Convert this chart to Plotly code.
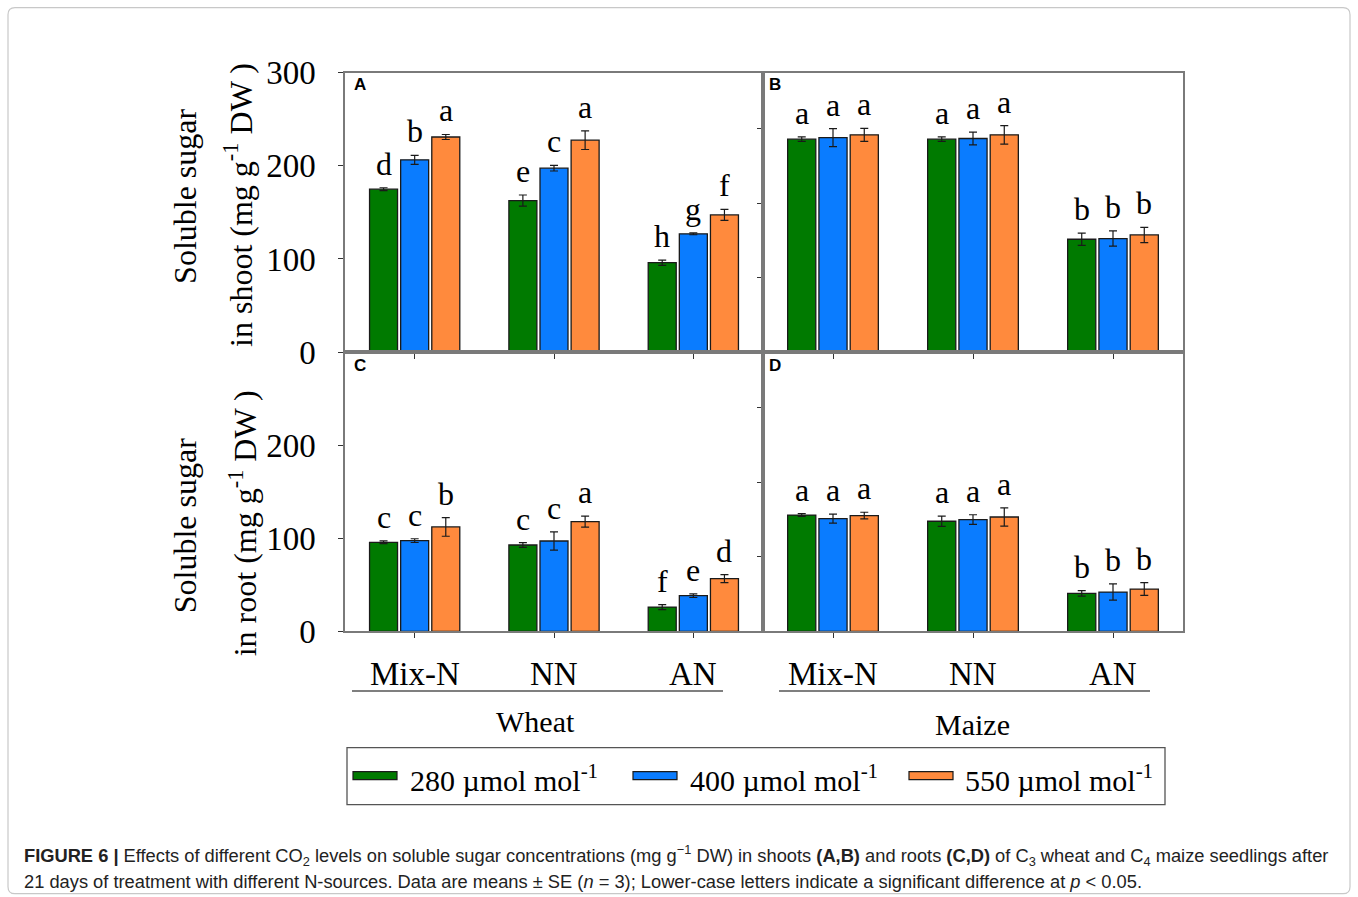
import plotly.graph_objects as go

W, H = 1358, 897

# ---- data -------------------------------------------------------------
n_sources = ["Mix-N", "NN", "AN"]
co2_levels = ["280", "400", "550"]
bar_colors = ["#007a00", "#0a7cff", "#ff8a3d"]

# rows follow co2_levels, columns follow n_sources
wheat_shoot_mean = [[175.0, 162.7, 96.0], [206.5, 197.5, 127.0], [231.0, 227.6, 147.3]]
wheat_shoot_se = [[1.5, 6.0, 2.8], [4.8, 3.0, 1.0], [2.7, 10.0, 5.9]]
wheat_shoot_letters = [["d", "e", "h"], ["b", "c", "g"], ["a", "a", "f"]]

maize_shoot_mean = [[228.7, 228.7, 121.2], [230.4, 229.4, 121.9], [233.3, 233.3, 125.8]]
maize_shoot_se = [[2.4, 2.5, 6.6], [9.7, 6.8, 8.2], [7.0, 10.0, 8.2]]
maize_shoot_letters = [["a", "a", "b"], ["a", "a", "b"], ["a", "a", "b"]]

wheat_root_mean = [[95.7, 92.8, 26.1], [97.5, 97.1, 38.4], [112.2, 118.0, 56.7]]
wheat_root_se = [[1.5, 2.5, 2.7], [2.0, 9.7, 2.0], [10.0, 5.9, 4.3]]
wheat_root_letters = [["c", "c", "f"], ["c", "c", "e"], ["b", "a", "d"]]

maize_root_mean = [[125.0, 118.3, 40.9], [121.2, 120.1, 42.3], [124.4, 122.9, 45.5]]
maize_root_se = [[1.5, 5.5, 3.0], [4.8, 5.2, 8.8], [3.6, 9.8, 6.8]]
maize_root_letters = [["a", "a", "b"], ["a", "a", "b"], ["a", "a", "b"]]

y_ticks_shoot = [0, 100, 200, 300]
y_ticks_root = [0, 100, 200]
y_minor_right = [80, 160, 240]

SERIF = "Liberation Serif, Times New Roman, serif"
SANS = "Liberation Sans, Arial, sans-serif"

# vertical placement of the drawing area inside the page
TOP, SPAN = 17.3, 860.0


def px(x):
    return x / W


def py(y):
    return 1 - (y - TOP) / SPAN


BARGAP = 0.33
BARGROUPGAP = 0.1
slot = (1 - BARGAP) / len(co2_levels)

panels = [
    # (mean, se, letters, axis suffix)
    (wheat_shoot_mean, wheat_shoot_se, wheat_shoot_letters, ""),
    (maize_shoot_mean, maize_shoot_se, maize_shoot_letters, "2"),
    (wheat_root_mean, wheat_root_se, wheat_root_letters, "3"),
    (maize_root_mean, maize_root_se, maize_root_letters, "4"),
]

fig = go.Figure()
annotations = []

for mean, se, letters, sfx in panels:
    for i, lvl in enumerate(co2_levels):
        fig.add_trace(go.Bar(
            x=n_sources, y=mean[i],
            name=lvl + " µmol mol-1",
            marker=dict(color=bar_colors[i], line=dict(color="#1a1a1a", width=1.3)),
            error_y=dict(type="data", array=se[i], visible=True,
                         color="#1a1a1a", thickness=1.2, width=4),
            xaxis="x" + sfx, yaxis="y" + sfx,
            showlegend=False, offsetgroup=str(i),
        ))
        for j in range(len(n_sources)):
            annotations.append(dict(
                x=j + (i - 1) * slot, y=mean[i][j] + se[i][j],
                xref="x" + sfx, yref="y" + sfx,
                text=letters[i][j], showarrow=False,
                xanchor="center", yanchor="bottom", yshift=4,
                font=dict(family=SERIF, size=32, color="black"),
            ))

# ---- axes ---------------------------------------------------------------
xl = [px(345), px(763)]
xr = [px(763), px(1183)]
yt = [py(352), py(73)]
yb = [py(631), py(352)]
FRAME = "#7a7a7a"

common_x = dict(type="category", range=[-0.5, 2.5], showline=True, mirror=True,
                linecolor=FRAME, linewidth=1.5, ticks="outside", ticklen=5,
                tickcolor="#333", tickwidth=1.2, showticklabels=False,
                showgrid=False, zeroline=False, fixedrange=True)
common_y = dict(range=[0, 300], showline=True, mirror=True, linecolor=FRAME,
                linewidth=1.5, ticks="outside", tickcolor="#333", tickwidth=1.2,
                showgrid=False, zeroline=False, fixedrange=True)

fig.update_layout(
    xaxis=dict(common_x, domain=xl, anchor="y"),
    xaxis2=dict(common_x, domain=xr, anchor="y2"),
    xaxis3=dict(common_x, domain=xl, anchor="y3"),
    xaxis4=dict(common_x, domain=xr, anchor="y4"),
    yaxis=dict(common_y, domain=yt, anchor="x", tickvals=y_ticks_shoot, ticklen=5,
               tickfont=dict(family=SERIF, size=33, color="black"), ticklabelstandoff=16),
    yaxis2=dict(common_y, domain=yt, anchor="x2", tickvals=y_minor_right, ticklen=4,
                showticklabels=False),
    yaxis3=dict(common_y, domain=yb, anchor="x3", tickvals=y_ticks_root, ticklen=5,
                tickfont=dict(family=SERIF, size=33, color="black"), ticklabelstandoff=16),
    yaxis4=dict(common_y, domain=yb, anchor="x4", tickvals=y_minor_right, ticklen=4,
                showticklabels=False),
)

# category labels under the lower panels
for sfx in ("3", "4"):
    for j, name in enumerate(n_sources):
        annotations.append(dict(
            x=j, y=py(674), xref="x" + sfx, yref="paper", text=name, showarrow=False,
            xanchor="center", yanchor="middle",
            font=dict(family=SERIF, size=33, color="black"),
        ))

# panel tags
for tag, (x0, y0) in zip("ABCD", [(352, 85), (767, 85), (352, 365), (767, 365)]):
    annotations.append(dict(
        x=px(x0), y=py(y0), xref="paper", yref="paper", text="<b>%s</b>" % tag,
        showarrow=False, xanchor="left", yanchor="middle",
        font=dict(family=SANS, size=17, color="black"),
    ))


# y-axis titles
def ytitle(text, x, y):
    annotations.append(dict(
        x=px(x), y=py(y), xref="paper", yref="paper", text=text, showarrow=False,
        textangle=-90, xanchor="center", yanchor="middle",
        font=dict(family=SERIF, size=32, color="black"),
    ))


ytitle("Soluble sugar", 185, 196)
ytitle("in shoot (mg g<sup>-1</sup> DW )", 238, 205)
ytitle("Soluble sugar", 185, 525)
ytitle("in root (mg g<sup>-1</sup> DW )", 243, 523)

# crop labels
for text, x, y in [("Wheat", 535, 721), ("Maize", 972, 724)]:
    annotations.append(dict(
        x=px(x), y=py(y), xref="paper", yref="paper", text=text, showarrow=False,
        xanchor="center", yanchor="middle",
        font=dict(family=SERIF, size=30, color="black"),
    ))

shapes = []
# underlines grouping the N sources per crop
for x0, x1 in [(352, 723), (779, 1150)]:
    shapes.append(dict(type="line", xref="paper", yref="paper",
                       x0=px(x0), x1=px(x1), y0=py(690.5), y1=py(690.5),
                       line=dict(color="#555", width=1.3)))

# legend box
shapes.append(dict(type="rect", xref="paper", yref="paper",
                   x0=px(347), x1=px(1165), y0=py(804), y1=py(747),
                   line=dict(color="#555", width=1.3), fillcolor="rgba(0,0,0,0)"))
legend_x = [(353, 408), (633, 688), (909, 963)]
for (sx, tx), lvl, col in zip(legend_x, co2_levels, bar_colors):
    shapes.append(dict(type="rect", xref="paper", yref="paper",
                       x0=px(sx), x1=px(sx + 44), y0=py(779), y1=py(771),
                       line=dict(color="#1a1a1a", width=1.2), fillcolor=col))
    annotations.append(dict(
        x=px(tx), y=py(777), xref="paper", yref="paper",
        text="%s µmol mol<sup>-1</sup>" % lvl, showarrow=False,
        xanchor="left", yanchor="middle",
        font=dict(family=SERIF, size=30, color="black"),
    ))

# outer frame with rounded corners
fx0, fx1, fy0, fy1, r = 8, 1350, 8, 893, 7
path = (
    f"M {px(fx0 + r)},{py(fy0)} L {px(fx1 - r)},{py(fy0)} "
    f"Q {px(fx1)},{py(fy0)} {px(fx1)},{py(fy0 + r)} "
    f"L {px(fx1)},{py(fy1 - r)} Q {px(fx1)},{py(fy1)} {px(fx1 - r)},{py(fy1)} "
    f"L {px(fx0 + r)},{py(fy1)} Q {px(fx0)},{py(fy1)} {px(fx0)},{py(fy1 - r)} "
    f"L {px(fx0)},{py(fy0 + r)} Q {px(fx0)},{py(fy0)} {px(fx0 + r)},{py(fy0)} Z"
)
shapes.append(dict(type="path", xref="paper", yref="paper", path=path,
                   line=dict(color="#c8c8c8", width=1.2), fillcolor="rgba(0,0,0,0)"))

# caption
cap1 = ("<b>FIGURE 6 |</b> Effects of different CO<sub>2</sub> levels on soluble sugar "
        "concentrations (mg g<sup>−1</sup> DW) in shoots <b>(A,B)</b> and roots "
        "<b>(C,D)</b> of C<sub>3</sub> wheat and C<sub>4</sub> maize seedlings after")
cap2 = ("21 days of treatment with different N-sources. Data are means ± SE (<i>n</i> = 3); "
        "Lower-case letters indicate a significant difference at <i>p</i> &lt; 0.05.")
for text, y in [(cap1, 855), (cap2, 881)]:
    annotations.append(dict(
        x=px(22), y=py(y), xref="paper", yref="paper", text=text, showarrow=False,
        xanchor="left", yanchor="middle", align="left",
        font=dict(family=SANS, size=18.3, color="#222"),
    ))

fig.update_layout(
    width=W, height=H, margin=dict(l=0, r=0, t=0, b=0),
    paper_bgcolor="white", plot_bgcolor="white",
    barmode="group", bargap=BARGAP, bargroupgap=BARGROUPGAP,
    annotations=annotations, shapes=shapes, showlegend=False,
)

fig.write_html("out.html")
